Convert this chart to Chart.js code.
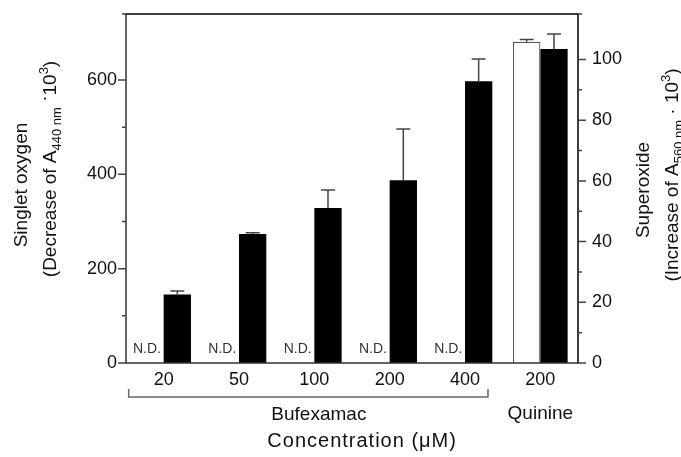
<!DOCTYPE html>
<html>
<head>
<meta charset="utf-8">
<script src="https://cdn.jsdelivr.net/npm/chart.js@4.4.1/dist/chart.umd.min.js"></script>
<style>
  body { margin: 0; background: #fff; }
  #wrap { width: 681px; height: 457px; }
</style>
</head>
<body>
<div id="wrap"><canvas id="chart" width="681" height="457"></canvas></div>
<script>
// concentration (uM) of each bar group
const categories = ['20', '50', '100', '200', '400', '200'];
const groupNames = ['Bufexamac', 'Quinine'];

// singlet oxygen: decrease of A440 x 10^3 (null = not detected)
const singletOxygen = [null, null, null, null, null, 681];
const singletOxygenSD = [null, null, null, null, null, 5];

// superoxide: increase of A560 x 10^3
const superoxide = [22.6, 42.5, 51.1, 60.2, 92.8, 103.5];
const superoxideSD = [1.1, 0.4, 5.9, 16.9, 7.4, 4.9];

const leftTickLabels = [0, 200, 400, 600];
const rightTickLabels = [0, 20, 40, 60, 80, 100];

const FONT = '"Liberation Sans", Arial, Helvetica, sans-serif';
Chart.defaults.font.family = FONT;
Chart.defaults.color = '#111';

// draws one line of text with sub/superscripts, rotated to read bottom-up
function drawRichTitle(ctx, parts, baseX, centerY) {
  const fontOf = p => (p.sub || p.sup ? '13px ' : '19px ') + FONT;
  let total = 0;
  parts.forEach(p => { ctx.font = fontOf(p); total += ctx.measureText(p.t).width; });
  ctx.save();
  ctx.translate(baseX, centerY);
  ctx.rotate(-Math.PI / 2);
  ctx.textBaseline = 'alphabetic';
  ctx.textAlign = 'left';
  ctx.fillStyle = '#111';
  let x = -total / 2;
  parts.forEach(p => {
    ctx.font = fontOf(p);
    const dy = p.sub ? 5 : p.sup ? -8 : (p.raise || 0);
    ctx.fillText(p.t, x, dy);
    x += ctx.measureText(p.t).width;
  });
  ctx.restore();
}

function drawErrorBars(chart, dsIndex, values, errors, axisId) {
  const ctx = chart.ctx;
  const meta = chart.getDatasetMeta(dsIndex);
  const scale = chart.scales[axisId];
  ctx.save();
  ctx.strokeStyle = '#444';
  ctx.lineWidth = 1.5;
  values.forEach((v, i) => {
    if (v == null || errors[i] == null) return;
    const el = meta.data[i];
    const yTop = scale.getPixelForValue(v + errors[i]);
    ctx.beginPath();
    ctx.moveTo(el.x, el.y);
    ctx.lineTo(el.x, yTop);
    ctx.moveTo(el.x - 7, yTop);
    ctx.lineTo(el.x + 7, yTop);
    ctx.stroke();
  });
  ctx.restore();
}

// keep the y axes from pushing the plot area down for their labels
function fixWidth(width) {
  return s => {
    s.width = width;
    s.paddingTop = 0;
    s.paddingBottom = 0;
  };
}

const decorations = {
  id: 'decorations',
  afterDatasetsDraw(chart) {
    drawErrorBars(chart, 0, singletOxygen, singletOxygenSD, 'y');
    drawErrorBars(chart, 1, superoxide, superoxideSD, 'y1');
  },
  afterDraw(chart) {
    const ctx = chart.ctx;
    const ca = chart.chartArea;
    const xs = chart.scales.x;

    // frame
    ctx.save();
    ctx.lineWidth = 1.5;
    ctx.strokeStyle = '#333';
    ctx.beginPath();
    ctx.moveTo(ca.left, ca.top); ctx.lineTo(ca.left, ca.bottom);
    ctx.moveTo(ca.left - 0.75, ca.bottom); ctx.lineTo(ca.right + 0.75, ca.bottom);
    ctx.stroke();
    ctx.strokeStyle = '#000';
    ctx.beginPath();
    ctx.moveTo(ca.left - 0.75, ca.top); ctx.lineTo(ca.right + 0.75, ca.top);
    ctx.moveTo(ca.right, ca.top); ctx.lineTo(ca.right, ca.bottom);
    ctx.stroke();

    // tick marks, long for labelled values
    ctx.strokeStyle = '#444';
    ctx.beginPath();
    chart.scales.y.ticks.forEach(t => {
      const y = chart.scales.y.getPixelForValue(t.value);
      const len = leftTickLabels.includes(t.value) ? 8 : 4;
      ctx.moveTo(ca.left - len, y); ctx.lineTo(ca.left, y);
    });
    chart.scales.y1.ticks.forEach(t => {
      const y = chart.scales.y1.getPixelForValue(t.value);
      const len = rightTickLabels.includes(t.value) ? 8 : 4;
      ctx.moveTo(ca.right, y); ctx.lineTo(ca.right + len, y);
    });
    ctx.stroke();

    // N.D. marks where singlet oxygen was not detected
    const blackBars = chart.getDatasetMeta(1).data;
    ctx.font = '14px ' + FONT;
    ctx.fillStyle = '#333';
    ctx.textAlign = 'center';
    ctx.textBaseline = 'alphabetic';
    singletOxygen.forEach((v, i) => {
      if (v != null) return;
      const el = blackBars[i];
      ctx.fillText('N.D.', el.x - el.width - 3, ca.bottom - 10);
    });

    // bracket under the bufexamac groups
    const bL = xs.getPixelForValue(0) - 35;
    const bR = xs.getPixelForValue(4) + 23;
    const bY = ca.bottom + 34;
    ctx.strokeStyle = '#666';
    ctx.lineWidth = 1.5;
    ctx.beginPath();
    ctx.moveTo(bL, bY - 8); ctx.lineTo(bL, bY); ctx.lineTo(bR, bY); ctx.lineTo(bR, bY - 8);
    ctx.stroke();

    ctx.fillStyle = '#111';
    ctx.font = '19px ' + FONT;
    ctx.textAlign = 'left';
    const textLeft = xs.getPixelForValue(2) - 43;
    ctx.fillText(groupNames[0], textLeft, ca.bottom + 57);
    ctx.textAlign = 'center';
    ctx.fillText(groupNames[1], xs.getPixelForValue(5), ca.bottom + 56);
    ctx.textAlign = 'left';
    ctx.font = '20px ' + FONT;
    ctx.letterSpacing = '1px';
    ctx.fillText('Concentration (\u03bcM)', textLeft - 4, ca.bottom + 84);
    ctx.letterSpacing = '0px';
    ctx.restore();

    // axis titles
    drawRichTitle(ctx, [{ t: 'Singlet oxygen' }], 27, 185);
    drawRichTitle(ctx, [
      { t: '(Decrease of A' }, { t: '440 nm', sub: true }, { t: ' \u00b7', raise: -6 },
      { t: '10' }, { t: '3', sup: true }, { t: ')' }
    ], 56, 169);
    drawRichTitle(ctx, [{ t: 'Superoxide' }], 649, 190);
    drawRichTitle(ctx, [
      { t: '(Increase of A' }, { t: '560 nm', sub: true }, { t: ' \u00b7 10' },
      { t: '3', sup: true }, { t: ')' }
    ], 678, 175);
  }
};

new Chart(document.getElementById('chart'), {
  type: 'bar',
  data: {
    labels: categories,
    datasets: [
      {
        label: 'Singlet oxygen',
        data: singletOxygen,
        yAxisID: 'y',
        backgroundColor: '#fff',
        borderColor: '#555',
        borderWidth: 1.2,
        borderSkipped: 'bottom'
      },
      {
        label: 'Superoxide',
        data: superoxide,
        yAxisID: 'y1',
        backgroundColor: '#000',
        borderWidth: 0
      }
    ]
  },
  options: {
    responsive: false,
    animation: false,
    events: [],
    layout: { padding: { top: 14, left: 0, right: 0, bottom: 0 } },
    datasets: { bar: { categoryPercentage: 0.725, barPercentage: 1.0 } },
    plugins: { legend: { display: false }, tooltip: { enabled: false } },
    scales: {
      x: {
        grid: { display: false, drawTicks: false },
        border: { display: false },
        ticks: { font: { size: 18 }, padding: 6, autoSkip: false, maxRotation: 0 },
        afterFit: s => { s.height = 94; }
      },
      y: {
        position: 'left',
        min: 0,
        max: 740,
        grid: { display: false, drawTicks: false },
        border: { display: false },
        ticks: {
          stepSize: 100,
          padding: 9,
          font: { size: 18 },
          callback: v => leftTickLabels.includes(v) ? String(v) : ''
        },
        afterFit: fixWidth(126)
      },
      y1: {
        position: 'right',
        min: 0,
        max: 115,
        grid: { display: false, drawTicks: false },
        border: { display: false },
        ticks: {
          stepSize: 10,
          padding: 14,
          font: { size: 18 },
          callback: v => rightTickLabels.includes(v) ? String(v) : ''
        },
        afterFit: fixWidth(103)
      }
    }
  },
  plugins: [decorations]
});
</script>
</body>
</html>
